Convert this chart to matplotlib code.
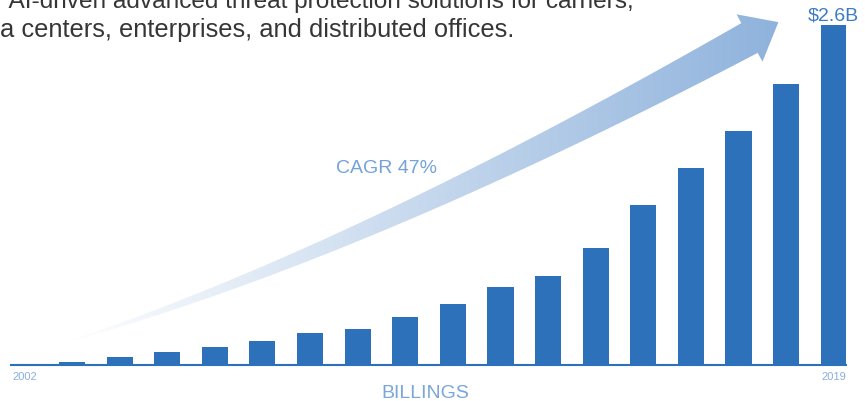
import numpy as np
import matplotlib
matplotlib.use('Agg')
import matplotlib.pyplot as plt
from matplotlib.patches import Polygon

plt.rcParams['font.family'] = ['Liberation Sans', 'DejaVu Sans']

# data (billions of USD)
years = list(range(2002, 2020))
billings = [0, 0.025, 0.063, 0.10, 0.14, 0.186, 0.247, 0.278, 0.369, 0.466,
            0.60, 0.68, 0.895, 1.226, 1.51, 1.79, 2.15, 2.6]
tick_years = ['2002', '2019']
top_label = r'\$2.6B'
cagr_label = 'CAGR 47%'
line1 = 'r AI-driven advanced threat protection solutions for carriers,'
line2 = 'a centers, enterprises, and distributed offices.'

bar_color = '#2c71b9'

fig = plt.figure(figsize=(8.65, 4.02), dpi=100)

# background layer in pixel coords for the decorative arrow and texts
bg = fig.add_axes([0, 0, 1, 1])
bg.set_xlim(0, 865)
bg.set_ylim(402, 0)
bg.axis('off')

# curved arrow (quadratic bezier centre line, widening towards the head)
p0 = np.array([60.0, 345.0])
p1 = np.array([352.0, 257.0])
p2 = np.array([749.5, 39.0])
t = np.linspace(0, 1, 120)[:, None]
pts = (1 - t) ** 2 * p0 + 2 * t * (1 - t) * p1 + t ** 2 * p2
der = 2 * (1 - t) * (p1 - p0) + 2 * t * (p2 - p1)
der = der / np.linalg.norm(der, axis=1)[:, None]
nrm = np.column_stack([-der[:, 1], der[:, 0]])
w = 34 * t
side_a = pts + nrm * w / 2
side_b = pts - nrm * w / 2
d_end, n_end = der[-1], nrm[-1]
head_a = p2 + n_end * 27
head_b = p2 - n_end * 27
tip = p2 + d_end * 33
outline = np.vstack([side_a, head_a, tip, head_b, side_b[::-1]])
arrow = Polygon(outline, closed=True, facecolor='none', edgecolor='none')
bg.add_patch(arrow)

c0 = np.array([1.0, 1.0, 1.0])
c1 = np.array([0x8e, 0xb2, 0xdc]) / 255
frac = np.linspace(0, 1, 256)[:, None]
grad = (c0 * (1 - frac) + c1 * frac)[None, :, :]
img = bg.imshow(grad, extent=(60, 785, 402, 0), aspect='auto', interpolation='bilinear')
img.set_clip_path(arrow)
bg.set_xlim(0, 865)
bg.set_ylim(402, 0)

# texts
bg.text(-5, 8, line1, fontsize=17.6, color='#363636', va='baseline')
bg.text(0, 37, line2, fontsize=18.4, color='#363636', va='baseline')
bg.text(336, 173, cagr_label, fontsize=14, color='#74a2d9', va='baseline')
bg.text(425.5, 398, 'BILLINGS', fontsize=14, color='#7aa6da', va='baseline',
        ha='center')

# bar chart
ax = fig.add_axes([11 / 865, 36 / 402, 835 / 865, 340 / 402])
ax.patch.set_alpha(0)
x = np.arange(len(years))
ax.bar(x, billings, width=0.55, color=bar_color)
ax.set_xlim(-0.2815, 17.26)
ax.set_ylim(0, 2.6)
for s in ['top', 'right', 'left']:
    ax.spines[s].set_visible(False)
ax.spines['bottom'].set_color(bar_color)
ax.spines['bottom'].set_linewidth(1.5)
ax.set_yticks([])
ax.set_xticks([0, len(years) - 1])
ax.set_xticklabels(tick_years)
ax.tick_params(axis='x', length=0, pad=4, labelsize=8, labelcolor='#8aaedb')
ax.annotate(top_label, (x[-1], billings[-1]), xytext=(0, 4.3), textcoords='offset points',
            ha='center', va='baseline', fontsize=14, color='#3b7cc4',
            annotation_clip=False)

fig.savefig('out.png', dpi=100)
